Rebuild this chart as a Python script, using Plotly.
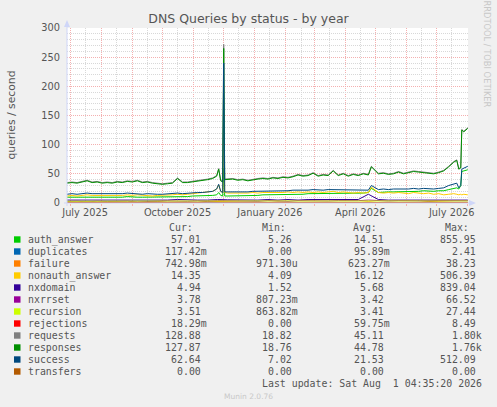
import pandas as pd
import plotly.graph_objects as go

start = pd.Timestamp("2025-06-28")
end = pd.Timestamp("2026-08-01 04:35:20")

# day offsets from start for the busy series (denser around the spike and the end)
day_main = [0, 5, 10, 15, 20, 25, 30, 35, 40, 45, 50, 55, 60, 65, 70, 75, 80, 85, 90, 95,
            100, 105, 110, 115, 120, 125, 130, 135, 140, 145,
            149, 151, 153, 155, 156, 157,
            160, 165, 170, 175, 180, 185, 190, 195, 200, 205, 210, 215, 220, 225, 230, 235,
            240, 245, 250, 255, 260, 265, 270, 275, 280, 285, 290, 295, 300, 303, 310, 315,
            320, 325, 330, 335, 340, 345, 350, 355, 360, 365, 370, 375, 380, 385,
            388, 390, 392, 393, 395, 399]

responses = [34, 35, 34, 36, 38, 35, 36, 34, 35, 34, 36, 35, 37, 36, 38, 35, 36, 34, 33, 32,
             33, 34, 42, 35, 35, 36, 37, 38, 40, 42,
             46, 58, 38, 36, 265, 40,
             40, 41, 39, 40, 38, 40, 41, 42, 41, 43, 42, 44, 43, 45, 48, 46,
             47, 51, 46, 48, 47, 55, 47, 50, 46, 49, 47, 50, 48, 62, 50, 51,
             49, 50, 53, 50, 52, 54, 53, 52, 51, 50, 52, 55, 62, 70,
             73, 58, 60, 125, 122, 128]
requests = [35, 36, 35, 37, 39, 36, 37, 35, 36, 35, 37, 36, 38, 37, 39, 36, 37, 35, 34, 33,
            34, 35, 43, 36, 36, 37, 38, 39, 41, 43,
            47, 59, 39, 37, 272, 41,
            41, 42, 40, 41, 39, 41, 42, 43, 42, 44, 43, 45, 44, 46, 49, 47,
            48, 52, 47, 49, 48, 56, 48, 51, 47, 50, 48, 51, 49, 63, 51, 52,
            50, 51, 54, 51, 53, 55, 54, 53, 52, 51, 53, 56, 63, 71,
            74, 59, 61, 126, 123, 129]
success = [15, 16, 15, 16, 17, 16, 16, 15, 16, 15, 16, 16, 17, 16, 16, 15, 16, 15, 15, 15,
           16, 16, 17, 16, 17, 17, 18, 18, 19, 20,
           24, 32, 20, 18, 240, 19,
           19, 19, 18, 19, 19, 20, 20, 20, 21, 20, 21, 21, 21, 22, 22, 21,
           22, 23, 22, 22, 23, 23, 22, 23, 22, 23, 22, 23, 22, 30, 23, 24,
           23, 24, 24, 23, 24, 25, 24, 25, 24, 24, 25, 26, 30, 33,
           34, 26, 30, 58, 60, 63]
nonauth_answer = [12, 13, 12, 13, 14, 13, 13, 12, 13, 12, 13, 13, 14, 13, 14, 13, 13, 12, 13, 13,
                  14, 14, 15, 14, 15, 16, 17, 18, 19, 20,
                  24, 31, 20, 18, 150, 18,
                  17, 17, 16, 17, 17, 18, 17, 18, 18, 17, 18, 18, 19, 18, 19, 18,
                  19, 18, 19, 18, 19, 20, 18, 19, 18, 17, 18, 17, 18, 27, 18, 17,
                  18, 17, 18, 17, 16, 18, 17, 16, 17, 15, 16, 14, 15, 16,
                  15, 14, 15, 14, 15, 14]
auth_answer = [10, 10, 9, 10, 10, 10, 10, 9, 10, 10, 10, 10, 11, 10, 10, 10, 10, 10, 10, 10,
               10, 11, 11, 11, 11, 12, 12, 12, 12, 13,
               14, 18, 13, 12, 60, 12,
               12, 12, 12, 13, 13, 13, 13, 14, 14, 14, 14, 14, 15, 15, 15, 15,
               16, 16, 16, 16, 16, 17, 17, 16, 17, 17, 17, 17, 18, 25, 18, 19,
               19, 19, 19, 20, 20, 20, 20, 21, 20, 20, 21, 21, 23, 25,
               26, 24, 30, 54, 55, 57]

# coarser sampling for the small series near zero
day_small = [0, 10, 20, 30, 40, 50, 60, 70, 80, 90, 100, 110, 120, 130, 140, 150, 160, 170,
             180, 190, 200, 210, 220, 230, 240, 250, 260, 270, 280, 290, 300, 310, 320, 330,
             340, 350, 360, 370, 380, 390, 399]
nxdomain = [5, 5, 5, 4.5, 5, 5, 5, 4.5, 5, 5, 5, 6, 5, 5, 5, 6, 5.5, 5, 5, 5,
            6, 5, 6, 5, 6, 6, 5, 6, 5, 6, 15, 6, 5, 5, 6, 5, 5, 6, 5, 6, 5]
nxrrset = [2.5, 3, 2, 3, 2.5, 3, 3, 2, 3, 3, 3.5, 3, 3, 3.5, 3, 4, 3.5, 3, 3.5, 3,
           4, 3.5, 3, 4, 3.5, 4, 3.5, 4, 3.5, 4, 5, 4, 3.5, 4, 3.5, 4, 3.5, 4, 3.5, 4, 3.8]
recursion = [3, 3.2, 3, 3.3, 3.2, 3.4, 3.3, 3.2, 3.3, 3.4, 3.3, 3.5, 3.4, 3.5, 3.6, 3.8, 3.5, 3.4, 3.5, 3.4,
             3.5, 3.4, 3.5, 3.4, 3.5, 3.4, 3.5, 3.4, 3.5, 3.4, 4, 3.5, 3.4, 3.5, 3.4, 3.5, 3.4, 3.5, 3.4, 3.5, 3.5]
failure = [0.5, 0.6, 2, 0.5, 0.6, 1.5, 0.5, 0.6, 0.5, 2.5, 0.6, 0.5, 0.7, 0.6, 3, 2.5, 0.8, 0.6, 0.5, 0.6,
           0.5, 1.5, 0.6, 0.5, 0.7, 0.6, 0.5, 0.6, 0.5, 0.7, 2, 0.6, 0.5, 0.6, 0.5, 0.6, 2.5, 1.5, 0.7, 0.6, 0.74]
rejections = [0.05, 0.05, 0.3, 0.05, 0.05, 0.05, 0.1, 0.05, 0.05, 0.05, 0.05, 0.05, 0.4, 0.05, 0.05, 0.1,
              0.05, 0.05, 0.05, 0.05, 0.05, 0.05, 0.3, 0.05, 0.05, 0.05, 0.05, 0.05, 0.05, 0.05, 0.2,
              0.05, 0.05, 0.05, 0.05, 0.05, 0.05, 0.05, 0.3, 0.05, 0.02]
duplicates = [0.1, 0.1, 0.08, 0.1, 0.1, 0.12, 0.1, 0.09, 0.1, 0.1, 0.1, 0.1, 0.11, 0.1, 0.1, 0.3,
              0.1, 0.1, 0.09, 0.1, 0.1, 0.1, 0.1, 0.1, 0.08, 0.1, 0.1, 0.1, 0.1, 0.1, 0.2,
              0.1, 0.1, 0.1, 0.09, 0.1, 0.1, 0.1, 0.1, 0.1, 0.12]
transfers = [0, 0, 0, 0, 0, 0, 0, 0, 0, 0, 0, 0, 0, 0, 0, 0, 0, 0, 0, 0,
             0, 0, 0, 0, 0, 0, 0, 0, 0, 0, 0, 0, 0, 0, 0, 0, 0, 0, 0, 0, 0]

# legend table
names = ["auth_answer", "duplicates", "failure", "nonauth_answer", "nxdomain", "nxrrset",
         "recursion", "rejections", "requests", "responses", "success", "transfers"]
colors = ["#00CC00", "#0066B3", "#FF8000", "#FFCC00", "#330099", "#990099",
          "#CCFF00", "#FF0000", "#808080", "#008F00", "#00487D", "#B35A00"]
cur = ["57.01", "117.42m", "742.98m", "14.35", "4.94", "3.78", "3.51", "18.29m", "128.88", "127.87", "62.64", "0.00"]
mins = ["5.26", "0.00", "971.30u", "4.09", "1.52", "807.23m", "863.82m", "0.00", "18.82", "18.76", "7.02", "0.00"]
avgs = ["14.51", "95.89m", "623.27m", "16.12", "5.68", "3.42", "3.41", "59.75m", "45.11", "44.78", "21.53", "0.00"]
maxs = ["855.95", "2.41", "38.23", "506.39", "839.04", "66.52", "27.44", "8.49", "1.80k", "1.76k", "512.09", "0.00"]

series = {
    "auth_answer": (day_main, auth_answer),
    "duplicates": (day_small, duplicates),
    "failure": (day_small, failure),
    "nonauth_answer": (day_main, nonauth_answer),
    "nxdomain": (day_small, nxdomain),
    "nxrrset": (day_small, nxrrset),
    "recursion": (day_small, recursion),
    "rejections": (day_small, rejections),
    "requests": (day_main, requests),
    "responses": (day_main, responses),
    "success": (day_main, success),
    "transfers": (day_small, transfers),
}

month_labels = ["July 2025", "", "", "October 2025", "", "", "January 2026", "", "", "April 2026", "", "", "July 2026"]
# labels sit in the middle of their month
label_dates = pd.date_range("2025-07-01", periods=13, freq="MS") + pd.Timedelta(days=15)

FONT = "DejaVu Sans"
MONO = "DejaVu Sans Mono"
TXT = "#555555"
AXIS = "#CFD6F8"

# plot area in pixels
L, T, W, H = 67, 28, 401, 175


def px(x):
    return (x - L) / W


def py(y):
    return (T + H - y) / H


fig = go.Figure()
for name, color in zip(names, colors):
    days, vals = series[name]
    fig.add_trace(go.Scatter(
        x=[start + pd.Timedelta(days=d) for d in days], y=vals, mode="lines",
        line=dict(color=color, width=1), name=name, hoverinfo="skip"))

fig.update_layout(
    width=497, height=407,
    margin=dict(l=L, r=497 - L - W, t=T, b=407 - T - H, autoexpand=False),
    paper_bgcolor="#F0F0F0", plot_bgcolor="#FFFFFF",
    showlegend=False,
    title=dict(text="DNS Queries by status - by year", x=0.5, xanchor="center",
               y=1 - 19 / 407, yanchor="middle", yref="container",
               font=dict(family=FONT, size=12.5, color=TXT)),
    font=dict(family=FONT, color=TXT),
)

fig.update_xaxes(
    range=[start, end], type="date", automargin=False,
    tickvals=list(label_dates), ticktext=month_labels, ticks="",
    tickfont=dict(family=FONT, size=9.8, color=TXT),
    showgrid=True, gridcolor="#D8D8D8", griddash="1px,1px", gridwidth=1,
    minor=dict(dtick="M1", tick0="2025-07-01", showgrid=True, gridcolor="#F4B0B0",
               griddash="1px,1px", gridwidth=1, ticks="outside", ticklen=2, tickcolor="#F4B0B0"),
    showline=False, zeroline=False, ticklabelstandoff=2,
)
fig.update_yaxes(
    range=[0, 300], dtick=50, tick0=0, ticks="", automargin=False,
    tickfont=dict(family=FONT, size=9.8, color=TXT),
    showgrid=True, gridcolor="#F4B0B0", griddash="1px,1px", gridwidth=1,
    minor=dict(dtick=10, showgrid=True, gridcolor="#D8D8D8", griddash="1px,1px", gridwidth=1),
    showline=False, zeroline=False, ticklabelstandoff=6,
)

shapes = []
# axes with arrows
shapes.append(dict(type="line", xref="paper", yref="paper", x0=px(67), x1=px(67), y0=py(206), y1=py(25),
                   line=dict(color=AXIS, width=1)))
shapes.append(dict(type="path", xref="paper", yref="paper", fillcolor=AXIS, line=dict(width=0),
                   path=f"M {px(64)},{py(27)} L {px(70)},{py(27)} L {px(67)},{py(20)} Z"))
shapes.append(dict(type="line", xref="paper", yref="paper", x0=px(64), x1=px(470), y0=py(203), y1=py(203),
                   line=dict(color=AXIS, width=1)))
shapes.append(dict(type="path", xref="paper", yref="paper", fillcolor=AXIS, line=dict(width=0),
                   path=f"M {px(469)},{py(200)} L {px(469)},{py(206)} L {px(476)},{py(203)} Z"))

annotations = []
annotations.append(dict(text="queries / second", x=px(11), y=py(115.5), xref="paper", yref="paper",
                        textangle=-90, showarrow=False, xanchor="center", yanchor="middle",
                        font=dict(family=FONT, size=10.8, color=TXT)))
annotations.append(dict(text="RRDTOOL / TOBI OETIKER", x=px(487), y=py(53.5), xref="paper", yref="paper",
                        textangle=90, showarrow=False, xanchor="center", yanchor="middle",
                        font=dict(family=FONT, size=8.3, color="#C8C8C8")))

cw = 5.96  # mono char width
num_ends = [201.7, 293.3, 385.0, 476.7]
headers = ["Cur:", "Min:", "Avg:", "Max:"]
header_ends = [194.3, 286.7, 378.3, 470.0]
for h, xe in zip(headers, header_ends):
    annotations.append(dict(text=h, x=px(xe), y=py(227.7), xref="paper", yref="paper", showarrow=False,
                            xanchor="right", yanchor="middle", borderpad=0,
                            font=dict(family=MONO, size=9.9, color=TXT)))

for i, name in enumerate(names):
    yc = 239.5 + 12.0 * i
    shapes.append(dict(type="rect", xref="paper", yref="paper", x0=px(14), x1=px(20.5),
                       y0=py(yc - 3.2), y1=py(yc + 3.2), fillcolor=colors[i], line=dict(width=0)))
    annotations.append(dict(text=name, x=px(26.5), y=py(yc), xref="paper", yref="paper", showarrow=False,
                            xanchor="left", yanchor="middle", borderpad=0,
                            font=dict(family=MONO, size=9.9, color=TXT)))
    for col, xe in zip([cur, mins, avgs, maxs], num_ends):
        v = col[i]
        xr = xe + (cw if v[-1].isalpha() else 0)
        annotations.append(dict(text=v, x=px(xr), y=py(yc), xref="paper", yref="paper", showarrow=False,
                                xanchor="right", yanchor="middle", borderpad=0,
                                font=dict(family=MONO, size=9.9, color=TXT)))

annotations.append(dict(text="Last update: Sat Aug\u00a0 1 04:35:20 2026", x=px(482.7), y=py(383.5),
                        xref="paper", yref="paper", showarrow=False, xanchor="right", yanchor="middle",
                        borderpad=0, font=dict(family=MONO, size=9.9, color=TXT)))
annotations.append(dict(text="Munin 2.0.76", x=px(248), y=py(396), xref="paper", yref="paper",
                        showarrow=False, xanchor="center", yanchor="middle", borderpad=0,
                        font=dict(family=FONT, size=7.5, color="#C8C8C8")))

fig.update_layout(shapes=shapes, annotations=annotations)

# drop the default page margin so the figure sits at the window's top-left corner
fig.write_html("out.html", config={"displayModeBar": False},
               post_script="document.body.style.margin = '0';")
